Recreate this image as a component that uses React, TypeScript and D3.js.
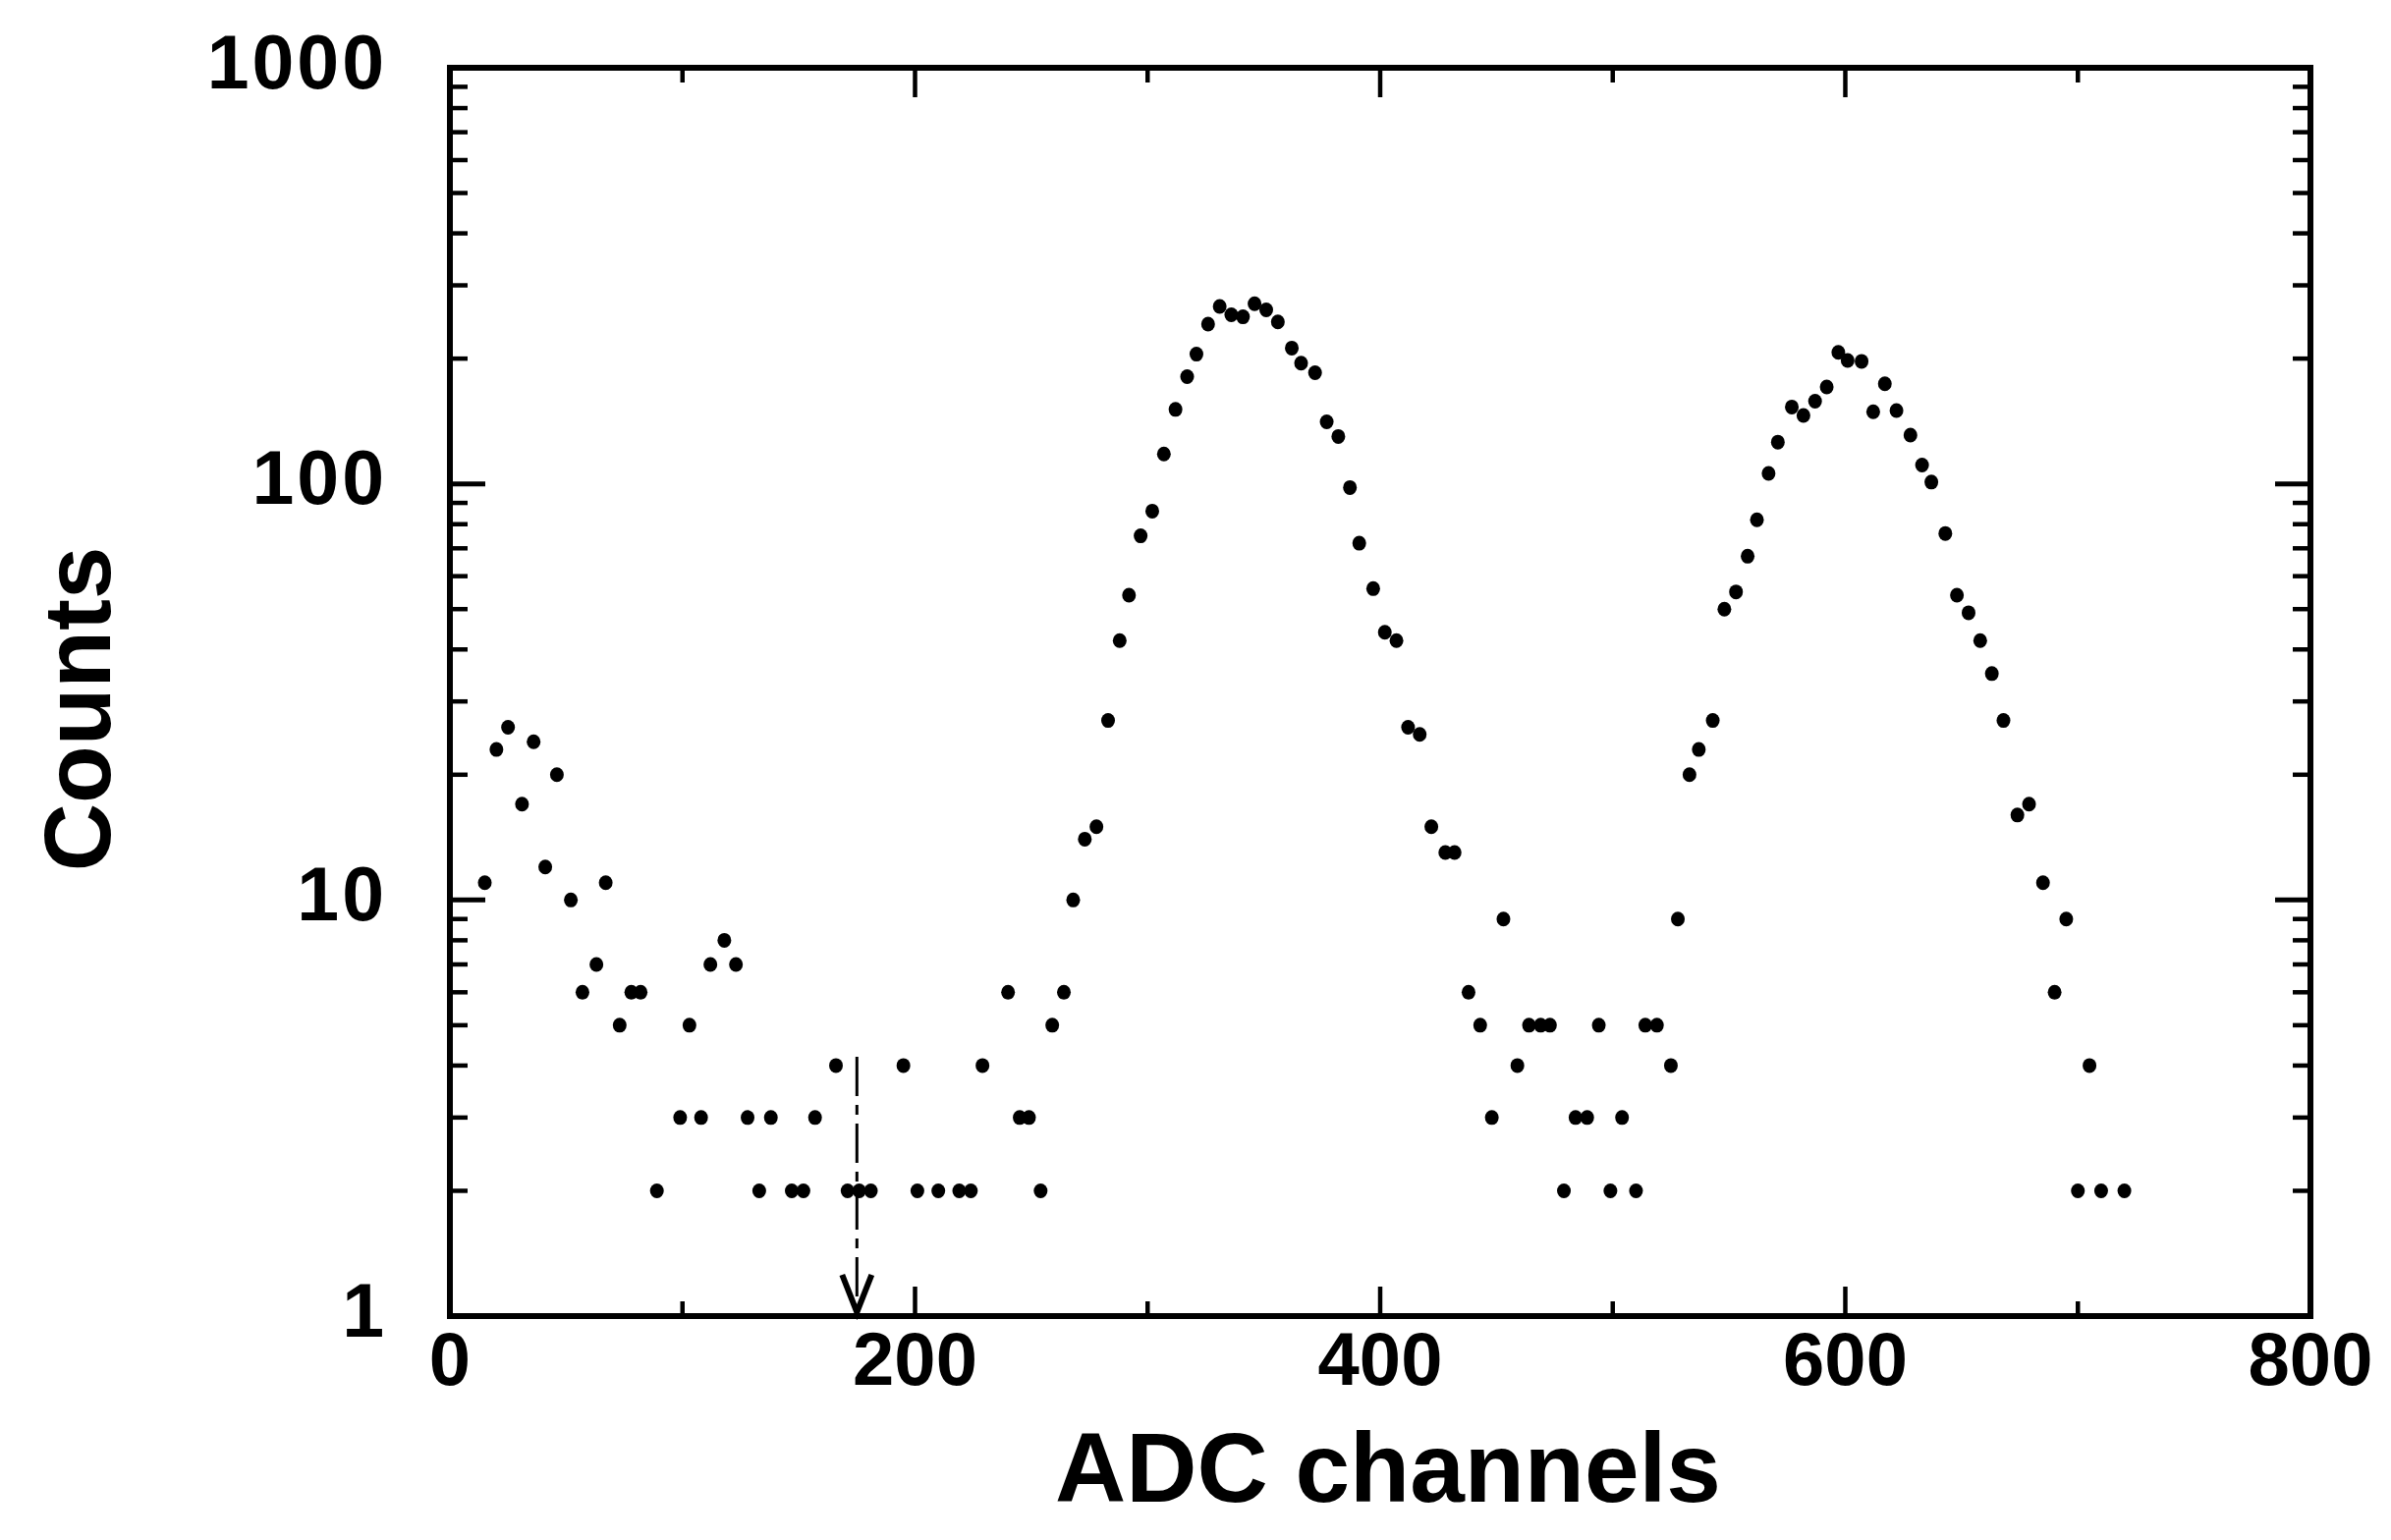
import React from 'react';
import * as d3 from 'd3';

// Spectrum data (ADC channel, counts)
const channels = [
  15, 20, 25, 31, 36, 41, 46, 52, 57, 63, 67, 73, 78, 82, 89, 99, 103, 108, 112, 118,
  123, 128, 133, 138, 147, 152, 157, 166, 171, 176, 181, 195, 201, 210, 219, 224, 229,
  240, 245, 249, 254, 259, 264, 268, 273, 278, 283, 288, 292, 297, 302, 307, 312, 317,
  321, 326, 331, 336, 341, 346, 351, 356, 362, 366, 372, 377, 382, 387, 391, 397, 402,
  407, 412, 417, 422, 428, 432, 438, 443, 448, 453, 459, 464, 469, 473, 479, 484, 489,
  494, 499, 504, 510, 514, 519, 525, 528, 533, 537, 543, 548, 553, 558, 562, 567, 571,
  577, 582, 587, 592, 597, 601, 607, 612, 617, 622, 628, 633, 637, 643, 648, 653, 658,
  663, 668, 674, 679, 685, 690, 695, 700, 705, 710, 720,
];
const counts = [
  11, 23, 26, 17, 24, 12, 20, 10, 6, 7, 11, 5, 6, 6, 2, 3, 5, 3, 7, 8,
  7, 3, 2, 3, 2, 2, 3, 4, 2, 2, 2, 4, 2, 2, 2, 2, 4,
  6, 3, 3, 2, 5, 6, 10, 14, 15, 27, 42, 54, 75, 86, 118, 151, 181,
  205, 242, 267, 255, 252, 271, 262, 245, 212, 195, 185, 141, 130, 98, 72, 56, 44,
  42, 26, 25, 15, 13, 13, 6, 5, 3, 9, 4, 5, 5, 5, 2, 3, 3,
  5, 2, 3, 2, 5, 5, 4, 9, 20, 23, 27, 50, 55, 67, 82, 106, 126,
  153, 146, 158, 171, 207, 198, 197, 149, 174, 150, 131, 111, 101, 76, 54, 49, 42,
  35, 27, 16, 17, 11, 6, 9, 2, 4, 2, 2,
];

const xMajorTicks = [0, 200, 400, 600, 800];
const xMinorTicks = [100, 300, 500, 700];
const yMajorTicks = [1, 10, 100, 1000];
const yTickLabels = ['1', '10', '100', '1000'];
const xTickLabels = ['0', '200', '400', '600', '800'];
const xTitle = 'ADC channels';
const yTitle = 'Counts';

// threshold marker (dash-dot arrow)
const markerChannel = 175;
const markerTop = 4.2;

export default function App() {
  const W = 2434;
  const H = 1568;
  const x = d3.scaleLinear().domain([0, 800]).range([458, 2352]);
  const y = d3.scaleLog().domain([1, 1000]).range([1340, 69]);
  const [x0, x1] = x.range();
  const [y0, y1] = y.range();

  const yMinor: number[] = [];
  [1, 10, 100].forEach((d) => {
    for (let k = 2; k <= 9; k++) yMinor.push(d * k);
  });

  const font = '"Liberation Sans", Arial, Helvetica, sans-serif';
  const majX = 30, minX = 15, majY = 36, minY = 18;
  const tickW = 4.5;

  const ax = x(markerChannel);

  return (
    <svg
      width={W}
      height={H}
      viewBox={`0 0 ${W} ${H}`}
      style={{ position: 'absolute', left: 0, top: 0, background: '#fff' }}
    >
      <rect x={0} y={0} width={W} height={H} fill="#fff" />
      {/* frame */}
      <rect x={x0} y={y1} width={x1 - x0} height={y0 - y1} fill="none" stroke="#000" strokeWidth={6} />

      {/* x ticks bottom and top */}
      {xMajorTicks.map((t) => (
        <g key={'xm' + t}>
          <line x1={x(t)} x2={x(t)} y1={y0} y2={y0 - majX} stroke="#000" strokeWidth={tickW} />
          <line x1={x(t)} x2={x(t)} y1={y1} y2={y1 + majX} stroke="#000" strokeWidth={tickW} />
        </g>
      ))}
      {xMinorTicks.map((t) => (
        <g key={'xn' + t}>
          <line x1={x(t)} x2={x(t)} y1={y0} y2={y0 - minX} stroke="#000" strokeWidth={tickW} />
          <line x1={x(t)} x2={x(t)} y1={y1} y2={y1 + minX} stroke="#000" strokeWidth={tickW} />
        </g>
      ))}

      {/* y ticks left and right */}
      {yMajorTicks.map((t) => (
        <g key={'ym' + t}>
          <line x1={x0} x2={x0 + majY} y1={y(t)} y2={y(t)} stroke="#000" strokeWidth={5} />
          <line x1={x1} x2={x1 - majY} y1={y(t)} y2={y(t)} stroke="#000" strokeWidth={5} />
        </g>
      ))}
      {yMinor.map((t) => (
        <g key={'yn' + t}>
          <line x1={x0} x2={x0 + minY} y1={y(t)} y2={y(t)} stroke="#000" strokeWidth={tickW} />
          <line x1={x1} x2={x1 - minY} y1={y(t)} y2={y(t)} stroke="#000" strokeWidth={tickW} />
        </g>
      ))}

      {/* tick labels */}
      {xMajorTicks.map((t, i) => (
        <text
          key={'xl' + t}
          x={x(t)}
          y={1410}
          textAnchor="middle"
          fontFamily={font}
          fontWeight="bold"
          fontSize={76}
          fill="#000"
        >
          {xTickLabels[i]}
        </text>
      ))}
      {yMajorTicks.map((t, i) => (
        <text
          key={'yl' + t}
          x={394}
          y={y(t) - 7}
          dy="0.36em"
          textAnchor="end"
          fontFamily={font}
          fontWeight="bold"
          fontSize={77}
          letterSpacing={3}
          fill="#000"
        >
          {yTickLabels[i]}
        </text>
      ))}

      {/* axis titles */}
      <text
        x={(x0 + x1) / 2 + 8}
        y={1529}
        textAnchor="middle"
        fontFamily={font}
        fontWeight="bold"
        fontSize={100}
        fill="#000"
      >
        {xTitle}
      </text>
      <text
        transform={`translate(112, ${722}) rotate(-90)`}
        textAnchor="middle"
        fontFamily={font}
        fontWeight="bold"
        fontSize={96}
        fill="#000"
      >
        {yTitle}
      </text>

      {/* threshold marker */}
      <line
        x1={ax}
        x2={ax}
        y1={y(markerTop)}
        y2={y0 - 4}
        stroke="#000"
        strokeWidth={3}
        strokeDasharray="40 9 10 9"
      />
      <polyline
        points={`${ax - 15},${y0 - 42} ${ax},${y0 - 4} ${ax + 15},${y0 - 42}`}
        fill="none"
        stroke="#000"
        strokeWidth={6}
        strokeLinejoin="miter"
      />

      {/* data points */}
      {channels.map((c, i) => (
        <ellipse key={'p' + i} cx={x(c)} cy={y(counts[i])} rx={7} ry={7.5} fill="#000" />
      ))}
    </svg>
  );
}
